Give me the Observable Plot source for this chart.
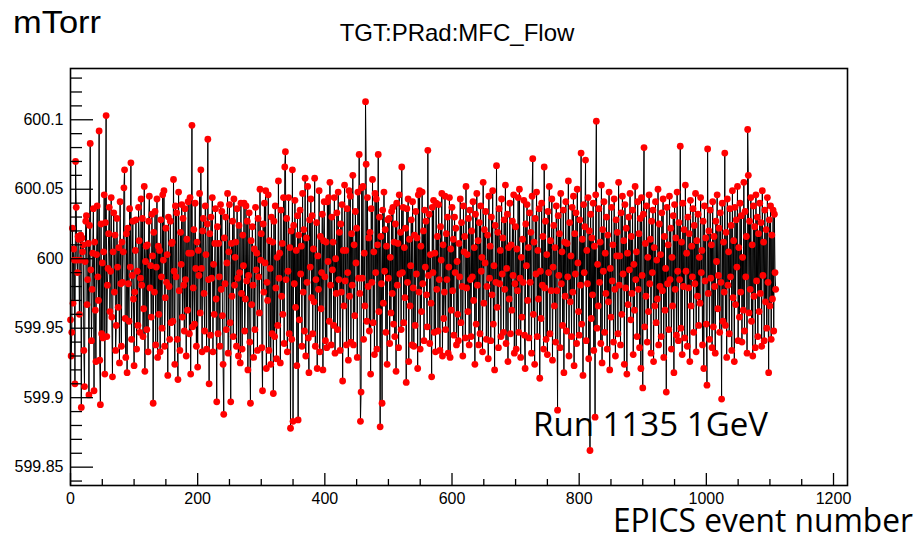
<!DOCTYPE html>
<html><head><meta charset="utf-8">
<script src="https://cdn.jsdelivr.net/npm/d3@7"></script>
<script src="https://cdn.jsdelivr.net/npm/@observablehq/plot@0.6"></script>
<style>body{margin:0;background:#fff}#chart{position:relative;width:921px;height:539px}</style>
</head><body><div id="chart"></div>
<script>
// MFC flow readings (mTorr), one per EPICS event 0..1109
const flow = [
599.956,599.930,599.947,600.022,599.968,600.007,599.999,599.910,600.070,600.037,
599.999,599.990,600.016,600.014,599.960,599.999,600.017,599.893,600.015,600.005,
600.010,599.934,599.908,599.998,600.027,600.031,599.967,599.985,600.011,599.902,
600.024,600.083,599.992,599.941,599.978,600.004,600.036,599.905,600.012,599.963,
599.926,600.003,600.038,599.987,599.970,600.092,599.927,599.895,600.025,599.946,
599.997,599.943,600.005,600.046,599.917,600.026,600.103,599.944,599.981,599.993,
600.018,600.037,599.962,599.991,600.044,599.958,599.915,600.005,600.033,599.976,
600.017,599.934,599.952,600.029,599.994,599.965,600.008,599.925,600.041,599.982,
599.937,600.012,599.983,600.005,600.051,600.064,599.957,599.929,600.018,599.918,
600.022,599.982,599.955,600.036,599.994,600.069,599.942,599.988,600.027,599.971,
599.923,599.976,600.006,600.028,599.935,599.991,599.952,600.037,600.013,599.947,
599.986,600.043,599.981,600.029,599.944,599.964,600.052,599.919,599.998,600.009,
599.949,600.010,599.933,600.027,600.045,599.979,599.995,599.958,600.032,600.002,
599.896,600.019,599.976,600.034,599.938,599.994,600.043,599.929,600.009,599.960,
600.006,599.933,600.028,599.987,599.950,600.046,599.999,600.049,599.937,599.972,
600.022,599.983,600.003,599.916,600.030,599.980,599.942,600.027,599.954,600.011,
600.012,599.955,600.057,599.991,599.924,600.038,599.987,600.033,599.942,599.913,
600.048,599.977,599.934,600.019,599.996,600.039,599.958,600.029,599.981,599.948,
600.036,599.985,599.930,600.014,599.963,600.041,600.004,599.946,600.044,599.917,
600.004,600.096,599.951,599.979,600.021,599.953,600.040,599.993,599.937,600.012,
599.922,600.006,599.988,600.047,599.961,600.064,599.993,599.933,600.020,600.029,
599.975,599.948,600.038,600.003,599.935,600.025,600.086,599.985,599.910,600.018,
599.945,600.030,599.986,600.044,599.933,599.996,599.960,600.011,600.036,599.971,
599.897,600.023,599.946,600.011,599.987,599.937,600.039,599.978,600.034,599.959,
599.924,599.888,600.015,599.982,600.030,599.949,599.997,600.047,599.932,600.005,
600.039,599.954,599.897,600.011,599.973,600.027,599.944,600.043,599.981,600.001,
600.012,599.937,600.036,599.986,599.930,600.024,599.990,599.925,600.040,599.975,
599.935,600.017,599.995,600.040,599.948,599.971,600.038,599.984,600.027,599.920,
599.988,600.033,599.940,599.896,600.013,599.967,600.023,599.981,599.929,600.007,
599.949,600.037,599.992,600.004,599.934,600.029,599.987,599.961,600.050,599.999,
600.018,599.936,599.905,600.025,599.976,600.040,599.997,600.049,599.921,599.983,
599.970,600.046,599.934,600.013,599.993,599.924,600.030,599.946,600.012,599.903,
600.027,599.944,600.038,599.979,599.928,600.001,599.952,600.056,599.986,600.004,
599.925,600.035,599.973,600.011,599.960,600.044,599.939,600.066,600.077,599.985,
600.029,599.933,599.991,600.044,599.946,600.008,599.878,600.020,599.942,600.064,
599.883,600.024,599.982,600.042,599.965,600.006,599.923,600.031,599.884,600.017,
599.956,600.035,599.989,600.009,599.937,600.047,599.976,600.021,599.948,600.058,
599.930,600.015,599.983,600.052,599.943,599.918,600.028,599.994,600.043,599.972,
600.031,599.946,600.007,599.969,600.058,599.937,599.985,600.026,599.921,600.002,
599.978,600.049,599.933,600.016,599.964,599.990,600.032,599.920,600.013,600.041,
599.987,599.941,600.012,599.936,600.041,599.998,600.044,599.955,600.055,599.981,
599.938,600.030,599.992,600.012,599.952,600.044,599.932,600.000,599.975,600.033,
599.949,600.048,599.985,600.019,599.934,600.025,599.976,600.039,599.912,600.006,
599.966,600.053,599.984,600.006,599.938,600.036,599.990,599.927,600.049,599.973,
600.045,599.940,600.018,599.981,600.060,599.938,600.010,599.959,600.034,599.997,
600.022,599.929,600.048,599.986,600.075,599.975,599.883,599.904,600.051,599.986,
600.052,599.942,600.004,599.966,600.113,600.068,599.955,600.044,599.980,600.015,
599.948,600.019,599.917,600.036,599.983,600.057,599.954,600.005,599.931,600.047,
599.990,600.043,599.935,600.010,600.075,599.962,600.030,599.879,600.016,599.982,
599.896,600.035,599.968,600.048,599.991,600.021,599.947,600.009,599.924,600.028,
599.986,600.029,599.939,600.001,599.961,600.034,599.975,600.037,599.953,600.012,
599.944,600.025,599.919,600.040,599.981,600.011,599.936,600.046,599.989,600.019,
599.949,600.066,599.990,600.037,599.954,600.008,599.972,600.022,599.911,600.036,
599.983,600.043,599.926,600.014,599.966,599.995,600.028,599.938,600.041,599.979,
599.937,600.017,599.952,600.034,599.989,600.015,599.921,600.046,599.976,600.049,
599.935,600.009,599.962,600.048,599.982,600.020,599.941,600.035,599.994,600.027,
599.974,599.951,600.078,599.988,600.032,599.939,600.003,599.968,599.915,600.037,
599.990,600.042,599.947,600.004,599.933,600.040,599.978,600.016,599.948,600.039,
599.985,599.934,600.023,599.999,600.047,599.930,600.010,599.957,599.976,600.045,
599.949,600.018,599.985,600.030,599.932,599.994,600.044,599.929,600.007,599.963,
600.037,599.977,600.014,599.945,600.030,599.990,600.022,599.938,599.998,599.960,
599.941,600.011,599.987,600.043,599.954,600.026,599.980,599.930,600.038,600.005,
600.016,599.943,600.052,599.979,600.003,599.962,600.029,599.938,600.035,599.985,
599.944,600.020,599.987,600.041,599.970,600.008,599.924,600.032,599.953,600.047,
599.981,600.013,599.938,600.026,599.946,600.038,599.991,600.001,599.933,600.055,
599.968,600.021,599.997,600.034,599.942,599.980,600.017,599.928,600.045,599.986,
600.009,599.941,600.030,599.974,600.049,599.953,599.995,599.920,600.024,599.983,
600.067,599.965,600.019,599.936,600.036,599.982,600.006,599.944,600.043,599.989,
600.015,599.947,600.028,599.978,600.053,599.939,599.993,600.032,599.926,600.008,
599.971,600.040,599.946,600.010,599.963,600.027,599.988,600.046,599.932,599.982,
600.023,599.935,600.007,599.977,600.044,599.947,600.050,599.986,599.929,600.001,
599.958,600.014,599.983,600.042,599.945,599.921,600.025,599.995,600.039,599.970,
600.008,599.943,600.033,599.983,600.019,599.932,600.045,600.072,599.960,600.012,
599.924,600.029,599.989,600.048,599.944,600.006,599.971,600.036,599.914,599.991,
599.957,600.040,599.981,600.016,599.935,600.066,599.979,600.027,599.942,600.003,
599.931,600.034,599.990,600.052,599.946,600.013,599.977,600.043,599.927,599.994,
600.024,599.966,600.008,599.940,600.038,599.977,599.891,600.031,599.988,600.018,
599.936,600.047,599.982,600.005,599.952,600.035,599.918,600.012,599.973,600.041,
599.948,600.011,599.987,600.056,599.930,600.026,599.969,600.002,599.944,600.037,
599.976,600.045,599.923,600.018,599.989,600.033,599.939,600.050,599.997,599.962,
599.945,600.028,599.981,600.076,599.953,600.014,599.916,600.039,599.990,600.023,
600.071,599.941,600.006,599.982,600.044,599.928,600.020,599.862,600.032,599.957,
600.015,599.974,600.040,599.934,600.009,599.886,600.046,600.099,599.950,599.996,
599.966,600.036,599.983,600.012,599.939,600.053,599.925,600.021,599.991,600.041,
599.947,600.004,599.975,600.030,599.935,600.017,599.969,600.048,599.920,599.993,
599.958,600.037,599.984,600.010,599.940,600.043,599.978,599.930,600.028,600.002,
600.019,599.946,600.055,599.981,600.002,599.938,600.033,599.960,600.045,599.989,
600.013,599.924,600.039,599.979,600.022,599.917,600.004,599.967,600.030,599.992,
600.047,599.956,600.016,599.975,600.035,599.931,599.996,599.963,600.052,599.985,
600.005,599.944,600.041,599.978,600.018,599.936,600.029,599.921,600.044,599.988,
599.907,600.032,600.080,599.951,600.011,599.973,600.038,599.940,600.001,599.962,
600.046,599.982,600.014,599.932,600.027,599.990,600.035,599.926,600.008,599.966,
600.041,599.954,599.999,599.971,600.050,599.938,600.025,599.980,600.003,599.944,
600.033,599.977,600.043,599.929,600.016,599.963,599.993,599.904,600.037,599.982,
600.010,599.949,600.045,599.985,600.022,599.935,600.001,599.966,600.031,599.918,
600.039,599.978,600.015,599.945,600.048,599.991,599.941,600.026,599.985,600.081,
599.950,600.012,599.931,600.040,599.980,600.021,599.943,600.053,599.991,600.004,
599.937,600.030,599.979,600.018,599.926,600.042,599.966,600.009,599.987,600.036,
599.947,600.024,599.982,600.047,599.933,600.013,599.973,600.032,599.952,600.001,
599.968,600.044,599.990,600.006,599.938,600.027,599.921,600.038,599.984,600.015,
599.953,599.909,600.079,599.975,600.020,599.942,600.035,599.986,600.010,599.936,
600.041,599.951,600.016,599.980,599.932,600.027,599.998,600.046,599.964,599.988,
600.022,599.947,600.033,599.983,599.899,600.040,599.955,600.012,599.976,600.076,
599.952,600.019,599.929,600.043,599.981,600.005,599.946,600.036,599.987,600.024,
599.934,600.049,599.972,600.013,599.926,600.037,599.967,600.028,599.994,600.052,
599.941,600.008,599.958,600.040,599.976,600.031,599.940,600.001,599.963,600.055,
599.948,600.034,599.987,600.016,599.932,600.093,600.060,599.961,600.027,599.978,
600.044,599.955,600.010,599.930,600.038,599.973,600.023,599.936,600.046,599.984,
600.030,599.944,600.018,599.962,600.040,599.975,600.026,599.937,600.049,599.988,
600.012,599.941,600.035,599.969,600.021,599.950,600.044,599.983,599.918,600.028,
599.966,600.038,599.942,600.017,599.971,600.035,599.948,600.032,599.990,599.978
];

const xMajorTicks = [0, 200, 400, 600, 800, 1000, 1200];
const xMinorTicks = [50,100,150,250,300,350,450,500,550,650,700,750,850,900,950,1050,1100,1150];
const yMajorTicks = [599.85, 599.9, 599.95, 600, 600.05, 600.1];
const yMinorTicks = [599.84,599.86,599.87,599.88,599.89,599.91,599.92,599.93,599.94,599.96,599.97,599.98,599.99,
  600.01,600.02,600.03,600.04,600.06,600.07,600.08,600.09,600.11,600.12,600.13];
const xDomain = [0, 1222];
const yDomain = [599.8368, 600.1369];

const titleText = "TGT:PRad:MFC_Flow";
const yUnitText = "mTorr";
const xTitleText = "EPICS event number";
const noteText = "Run 1135 1GeV";

const points = flow.map((v, i) => ({event: i, value: v}));

const W = 921, H = 539, mL = 70, mR = 74, mT = 68, mB = 54;
const pw = W - mL - mR, ph = H - mT - mB;

const chart = Plot.plot({
  width: W, height: H,
  marginLeft: mL, marginRight: mR, marginTop: mT, marginBottom: mB,
  style: {fontFamily: "'Liberation Sans', Arial, sans-serif", fontSize: "16px", background: "white", color: "black"},
  x: {domain: xDomain, axis: null},
  y: {domain: yDomain, axis: null},
  marks: [
    Plot.line(points, {x: "event", y: "value", stroke: "black", strokeWidth: 1}),
    Plot.dot(points, {x: "event", y: "value", r: 3.4, fill: "#ff0000"}),
    Plot.tickY(yMajorTicks, {y: d => d, insetRight: pw - 23, stroke: "black", strokeWidth: 1.3}),
    Plot.tickY(yMinorTicks, {y: d => d, insetRight: pw - 12, stroke: "black", strokeWidth: 1.3}),
    Plot.tickX(xMajorTicks, {x: d => d, insetTop: ph - 12, stroke: "black", strokeWidth: 1.3}),
    Plot.tickX(xMinorTicks, {x: d => d, insetTop: ph - 6, stroke: "black", strokeWidth: 1.3}),
    Plot.axisY({ticks: yMajorTicks, tickSize: 0, tickPadding: 7, label: null, tickFormat: d => String(d), fontSize: 16}),
    Plot.axisX({ticks: xMajorTicks, tickSize: 0, tickPadding: 7, label: null, tickFormat: d => String(d), fontSize: 16}),
    Plot.frame({stroke: "black", strokeWidth: 1.6})
  ]
});
document.getElementById("chart").appendChild(chart);

const svg = d3.select(chart);
svg.append("text").attr("x", 13).attr("y", 33).attr("text-anchor", "start")
  .attr("font-family", "'Liberation Sans', Arial, sans-serif")
  .attr("font-size", 31).attr("fill", "black").attr("textLength", 88).attr("lengthAdjust", "spacingAndGlyphs").text(yUnitText);
svg.append("text").attr("x", 457).attr("y", 41).attr("text-anchor", "middle")
  .attr("font-family", "'Liberation Sans', Arial, sans-serif").attr("font-size", 24).attr("fill", "black").text(titleText);
svg.append("text").attr("x", 533).attr("y", 436).attr("text-anchor", "start")
  .attr("font-family", "'Open Sans', sans-serif")
  .attr("font-size", 32).attr("fill", "black").attr("textLength", 235).attr("lengthAdjust", "spacingAndGlyphs").text(noteText);
svg.append("text").attr("x", 613).attr("y", 532).attr("text-anchor", "start")
  .attr("font-family", "'Open Sans', sans-serif")
  .attr("font-size", 32).attr("fill", "black").attr("textLength", 300).attr("lengthAdjust", "spacingAndGlyphs").text(xTitleText);
</script>
</body></html>
